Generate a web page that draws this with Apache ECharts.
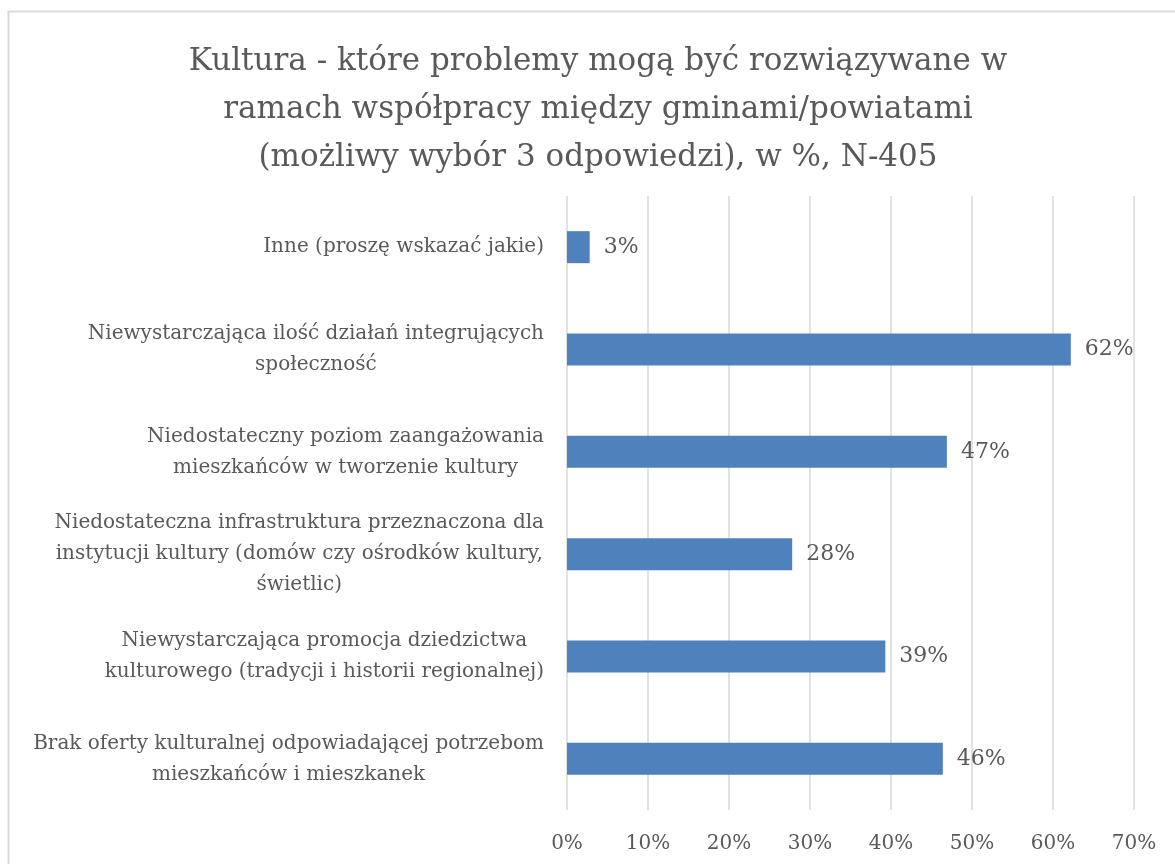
<!DOCTYPE html>
<html>
<head>
<meta charset="utf-8">
<script src="https://cdn.jsdelivr.net/npm/echarts@6/dist/echarts.min.js"></script>
<style>
  html, body { margin: 0; padding: 0; background: #fff; }
  #chart { width: 1175px; height: 864px; }
</style>
</head>
<body>
<div id="chart"></div>
<script>
// categories bottom-up, as ECharts draws a category y axis
const categories = [
  'Brak oferty kulturalnej odpowiadającej potrzebom\nmieszkańców i mieszkanek',
  'Niewystarczająca promocja dziedzictwa\nkulturowego (tradycji i historii regionalnej)',
  'Niedostateczna infrastruktura przeznaczona dla\ninstytucji kultury (domów czy ośrodków kultury,\nświetlic)',
  'Niedostateczny poziom zaangażowania\nmieszkańców w tworzenie kultury',
  'Niewystarczająca ilość działań integrujących\nspołeczność',
  'Inne (proszę wskazać jakie)'
]
const values = [46.4, 39.3, 27.8, 46.9, 62.2, 2.8]
const titleLines = [
  'Kultura - które problemy mogą być rozwiązywane w',
  'ramach współpracy między gminami/powiatami',
  '(możliwy wybór 3 odpowiedzi), w %, N-405'
]

const FONT = "'DejaVu Serif', serif"
const TEXT = '#595959'

const chart = echarts.init(document.getElementById('chart'))

chart.setOption({
  animation: false,
  title: {
    text: titleLines.join('\n'),
    left: 598,
    top: 38,
    padding: 0,
    textAlign: 'center',
    textStyle: {
      fontFamily: FONT,
      fontWeight: 'normal',
      fontSize: 31,
      lineHeight: 48,
      color: TEXT
    }
  },
  graphic: [{
    type: 'rect',
    shape: { x: 8.5, y: 11.5, width: 1300, height: 1000 },
    style: { fill: 'none', stroke: '#d9d9d9', lineWidth: 2 },
    silent: true
  }],
  grid: {
    left: 567,
    right: 41,
    top: 196,
    bottom: 54
  },
  xAxis: {
    type: 'value',
    min: 0,
    max: 70,
    interval: 10,
    axisLine: { show: false },
    axisTick: { show: false },
    splitLine: { lineStyle: { color: '#d9d9d9', width: 1.5 } },
    axisLabel: {
      margin: 24,
      formatter: '{value}%',
      fontFamily: FONT,
      fontSize: 20,
      color: TEXT
    }
  },
  yAxis: {
    type: 'category',
    data: categories,
    axisLine: { show: false },
    axisTick: { show: false },
    axisLabel: {
      margin: 23,
      formatter: v => v.split('\n').map(l => '{c|' + l + '}').join('\n'),
      rich: {
        c: {
          align: 'center',
          fontFamily: FONT,
          fontSize: 20,
          lineHeight: 31,
          color: TEXT
        }
      }
    }
  },
  series: [{
    type: 'bar',
    data: values,
    barWidth: 32,
    itemStyle: { color: '#4f81bd' },
    label: {
      show: true,
      position: 'right',
      distance: 14,
      formatter: p => Math.round(p.value) + '%',
      fontFamily: FONT,
      fontSize: 22,
      color: TEXT
    }
  }]
})
</script>
</body>
</html>
